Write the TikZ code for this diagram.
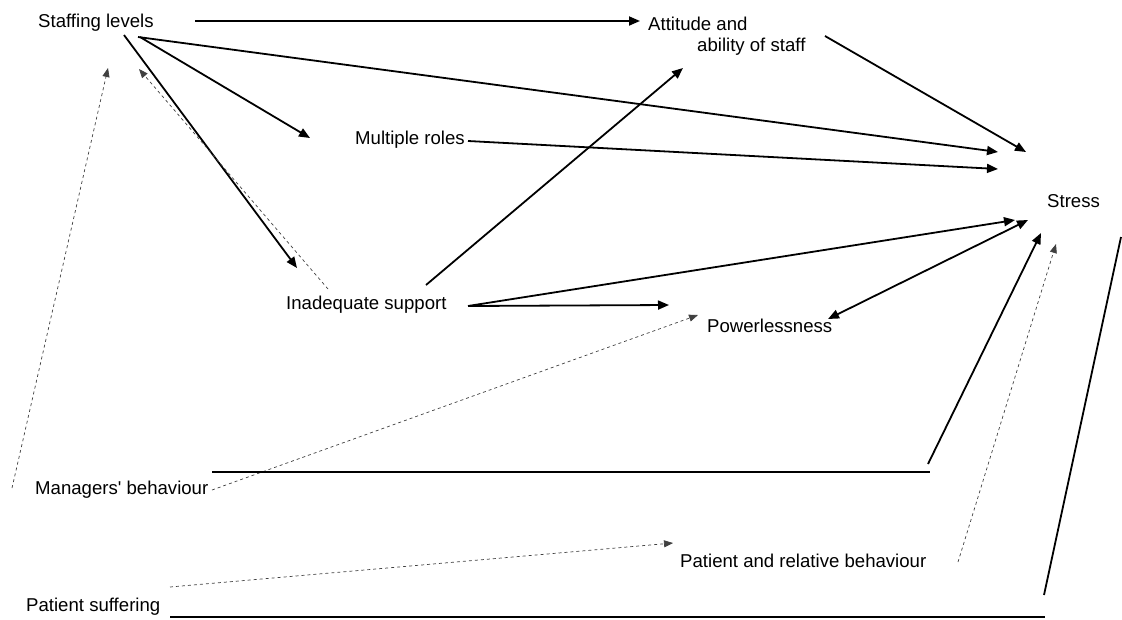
\documentclass[tikz,border=0pt]{standalone}
\usepackage{fontspec}
\setmainfont{Liberation Sans}
\usetikzlibrary{arrows.meta}
\begin{document}
\begin{tikzpicture}[x=1pt,y=-1pt,
  lbl/.style={anchor=west,inner sep=0pt,font=\fontsize{18.6}{22}\selectfont},
  solid arrow/.style={line width=1.8pt,-{Triangle[length=11pt,width=9pt]}},
  solid line/.style={line width=1.8pt},
  dash arrow/.style={line width=0.7pt,black!75,dash pattern=on 3pt off 3pt,-{Triangle[length=9pt,width=7pt]}},
]
\useasboundingbox (0,0) rectangle (1122,619);
% nodes
\node[lbl] (sl) at (38,23) {Staffing levels};
\node[lbl] (att1) at (648,24) {Attitude and};
\node[lbl] (att2) at (697,47) {ability of staff};
\node[lbl] (mr) at (355,140) {Multiple roles};
\node[lbl] (st) at (1047,201) {Stress};
\node[lbl] (is) at (286,305) {Inadequate support};
\node[lbl] (pw) at (707,326) {Powerlessness};
\node[lbl] (mb) at (35,490) {Managers\textquotesingle{} behaviour};
\node[lbl] (pr) at (680,561) {Patient and relative behaviour};
\node[lbl] (ps) at (26,607) {Patient suffering};
% connector end points
\coordinate (slA) at (195,21);
\coordinate (attIn) at (640,21);
\coordinate (slB) at (138,37);
\coordinate (stA) at (998,152);
\coordinate (slC) at (140,37);
\coordinate (mrIn) at (310,138);
\coordinate (slD) at (124,35);
\coordinate (isIn) at (297,268);
\coordinate (isOut) at (328,289);
\coordinate (slIn) at (139,69);
\coordinate (mbOut) at (12,488);
\coordinate (slIn2) at (108,68);
\coordinate (mrOut) at (468,141);
\coordinate (stB) at (998,169);
\coordinate (attOut) at (825,36);
\coordinate (stC) at (1026,152);
\coordinate (isUp) at (426,285);
\coordinate (attIn2) at (683,68);
\coordinate (isR) at (468,306);
\coordinate (stD) at (1015,220);
\coordinate (pwIn) at (669,305);
\coordinate (pwE) at (828,319);
\coordinate (stE) at (1028,220);
\coordinate (mbR) at (212,490);
\coordinate (pwIn2) at (698,315);
\coordinate (mbL) at (212,472);
\coordinate (mbC) at (930,472);
\coordinate (mbU) at (928,464);
\coordinate (stF) at (1041,233);
\coordinate (prOut) at (958,562);
\coordinate (stG) at (1056,244);
\coordinate (psOut) at (170,587);
\coordinate (prIn) at (673,543);
\coordinate (psL) at (170,617);
\coordinate (psC) at (1045,617);
\coordinate (psD) at (1044,595);
\coordinate (psTop) at (1121,237);
% connectors
\draw[solid arrow] (slA) -- (attIn);
\draw[solid arrow] (slB) -- (stA);
\draw[solid arrow] (slC) -- (mrIn);
\draw[solid arrow] (slD) -- (isIn);
\draw[dash arrow] (isOut) -- (slIn);
\draw[dash arrow] (mbOut) -- (slIn2);
\draw[solid arrow] (mrOut) -- (stB);
\draw[solid arrow] (attOut) -- (stC);
\draw[solid arrow] (isUp) -- (attIn2);
\draw[solid arrow] (isR) -- (stD);
\draw[solid arrow] (isR) -- (pwIn);
\draw[line width=1.8pt,{Triangle[length=11pt,width=9pt]}-{Triangle[length=11pt,width=9pt]}] (pwE) -- (stE);
\draw[dash arrow] (mbR) -- (pwIn2);
\draw[solid line] (mbL) -- (mbC);
\draw[solid arrow] (mbU) -- (stF);
\draw[dash arrow] (prOut) -- (stG);
\draw[dash arrow] (psOut) -- (prIn);
\draw[solid line] (psL) -- (psC);
\draw[solid line] (psD) -- (psTop);
\end{tikzpicture}
\end{document}
